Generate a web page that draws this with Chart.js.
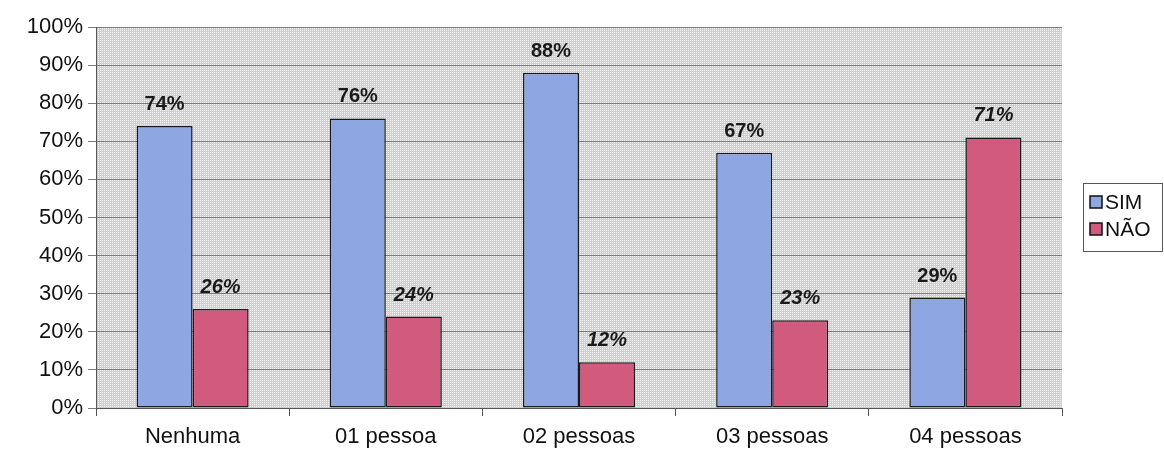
<!DOCTYPE html>
<html>
<head>
<meta charset="utf-8">
<script src="https://cdn.jsdelivr.net/npm/chart.js@4"></script>
<style>
  html, body { margin: 0; padding: 0; background: #fff; }
  #wrap { width: 1164px; height: 450px; }
</style>
</head>
<body>
<div id="wrap"><canvas id="grafico"></canvas></div>
<script>
const categorias = ['Nenhuma', '01 pessoa', '02 pessoas', '03 pessoas', '04 pessoas'];
const valoresSim = [74, 76, 88, 67, 29];
const valoresNao = [26, 24, 12, 23, 71];

const FONTE = '"Liberation Sans", Arial, sans-serif';

// dotted grey fill for the plot area
function padraoFundo(ctx) {
  const c = document.createElement('canvas');
  c.width = 4; c.height = 4;
  const p = c.getContext('2d');
  p.fillStyle = '#cfcfcf';
  p.fillRect(0, 0, 4, 4);
  p.fillStyle = '#f4f4f4';
  p.fillRect(0, 0, 1, 1);
  p.fillRect(2, 2, 1, 1);
  p.fillRect(2, 0, 1, 1);
  p.fillRect(0, 2, 1, 1);
  return ctx.createPattern(c, 'repeat');
}

const fundoPlot = {
  id: 'fundoPlot',
  beforeDraw(chart) {
    const { ctx, chartArea: a } = chart;
    ctx.save();
    ctx.fillStyle = padraoFundo(ctx);
    ctx.fillRect(a.left, a.top, a.right - a.left, a.bottom - a.top);
    ctx.restore();
  }
};

// percentage labels above each bar
const rotulos = {
  id: 'rotulos',
  afterDatasetsDraw(chart) {
    const ctx = chart.ctx;
    ctx.save();
    ctx.fillStyle = '#1a1a1a';
    ctx.textAlign = 'center';
    ctx.textBaseline = 'alphabetic';
    chart.data.datasets.forEach((ds, i) => {
      ctx.font = (i === 1 ? 'italic ' : '') + 'bold 20px ' + FONTE;
      chart.getDatasetMeta(i).data.forEach((bar, j) => {
        ctx.fillText(ds.data[j] + '%', bar.x, bar.y - 16);
      });
    });
    ctx.restore();
  }
};

// framed legend to the right of the plot
const legendaCaixa = {
  id: 'legendaCaixa',
  afterDraw(chart) {
    const ctx = chart.ctx;
    const a = chart.chartArea;
    const x0 = a.right + 21, y0 = 183, w = 80, h = 69;
    ctx.save();
    ctx.fillStyle = '#fff';
    ctx.fillRect(x0, y0, w, h);
    ctx.strokeStyle = '#555';
    ctx.lineWidth = 1;
    ctx.strokeRect(x0 + 0.5, y0 + 0.5, w - 1, h - 1);
    ctx.font = '21px ' + FONTE;
    ctx.textBaseline = 'middle';
    chart.data.datasets.forEach((ds, i) => {
      const cy = y0 + 19 + i * 27;
      ctx.fillStyle = ds.backgroundColor;
      ctx.fillRect(x0 + 7, cy - 6, 12, 12);
      ctx.strokeStyle = '#111';
      ctx.lineWidth = 1.5;
      ctx.strokeRect(x0 + 7, cy - 6, 12, 12);
      ctx.fillStyle = '#111';
      ctx.fillText(ds.label, x0 + 22, cy + 1);
    });
    ctx.restore();
  }
};

new Chart(document.getElementById('grafico'), {
  type: 'bar',
  data: {
    labels: categorias,
    datasets: [
      {
        label: 'SIM',
        data: valoresSim,
        backgroundColor: '#8ea6e2',
        borderColor: '#1a1a1a',
        borderWidth: 1.5,
        borderSkipped: false
      },
      {
        label: 'NÃO',
        data: valoresNao,
        backgroundColor: '#d25a7e',
        borderColor: '#1a1a1a',
        borderWidth: 1.5,
        borderSkipped: false
      }
    ]
  },
  options: {
    responsive: true,
    maintainAspectRatio: false,
    animation: false,
    layout: { padding: { top: 27, left: 0, right: 102, bottom: 0 } },
    datasets: { bar: { categoryPercentage: 0.58, barPercentage: 1 } },
    plugins: {
      tooltip: { enabled: false },
      legend: { display: false }
    },
    scales: {
      x: {
        afterFit(scale) { scale.height = 42; },
        grid: {
          display: true,
          drawOnChartArea: false,
          offset: true,
          tickLength: 8,
          color: '#555'
        },
        border: { color: '#555', width: 1 },
        ticks: {
          color: '#111',
          font: { family: FONTE, size: 22 },
          padding: 8
        }
      },
      y: {
        min: 0,
        max: 100,
        afterFit(scale) { scale.width = 96; },
        ticks: {
          stepSize: 10,
          color: '#111',
          font: { family: FONTE, size: 22 },
          padding: 5,
          callback: v => v + '%'
        },
        grid: { color: '#7a7a7a', tickLength: 8 },
        border: { color: '#555', width: 1 }
      }
    }
  },
  plugins: [fundoPlot, rotulos, legendaCaixa]
});
</script>
</body>
</html>
